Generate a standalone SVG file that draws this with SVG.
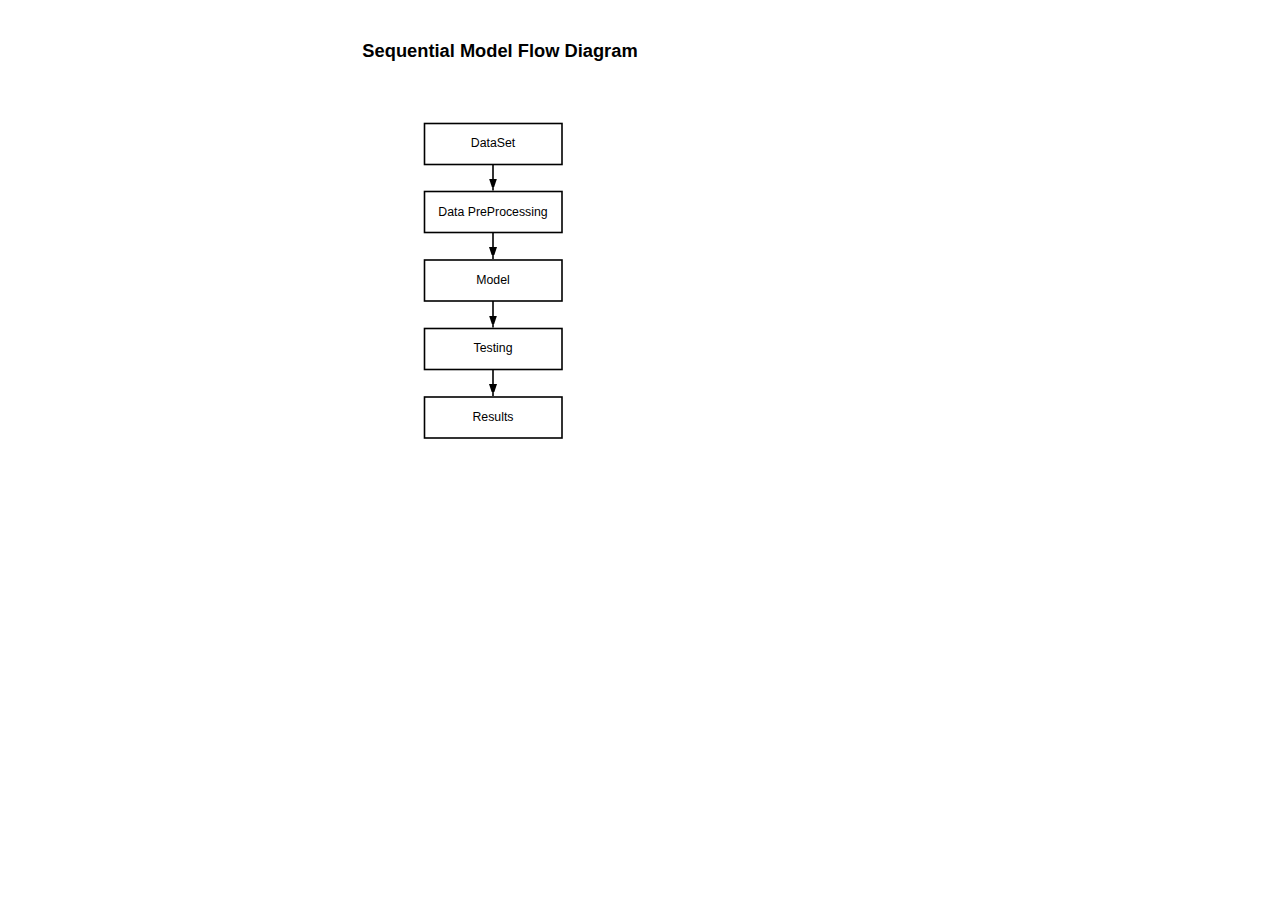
<svg xmlns="http://www.w3.org/2000/svg" width="1280" height="905" viewBox="0 0 1280 905">
<style>
.box{fill:#fff;stroke:#000;stroke-width:1.6}
.lbl{font-family:"Liberation Sans",Arial,sans-serif;font-size:12.3px;fill:#000;text-anchor:middle}
.title{font-family:"Liberation Sans",Arial,sans-serif;font-size:18.3px;font-weight:bold;fill:#000;text-anchor:middle}
.edge{stroke:#000;stroke-width:1.6;fill:none}
</style>
<defs>
<marker id="arr" markerWidth="8" markerHeight="12" refX="12" refY="4" orient="auto" markerUnits="userSpaceOnUse">
<path d="M0,0 L12,4 L0,8 Z" fill="#000"/>
</marker>
</defs>
<rect width="1280" height="905" fill="#fff"/>
<text class="title" x="500" y="56.5">Sequential Model Flow Diagram</text>
<g id="connectors">
<line class="edge" x1="493" y1="164" x2="493" y2="190.5" marker-end="url(#arr)"/>
<line class="edge" x1="493" y1="232.5" x2="493" y2="259" marker-end="url(#arr)"/>
<line class="edge" x1="493" y1="301" x2="493" y2="327.5" marker-end="url(#arr)"/>
<line class="edge" x1="493" y1="369.5" x2="493" y2="396" marker-end="url(#arr)"/>
</g>
<g id="node-dataset"><rect class="box" x="424.5" y="123.5" width="137.5" height="41"/><text class="lbl" x="493" y="147.3">DataSet</text></g>
<g id="node-preprocessing"><rect class="box" x="424.5" y="191.5" width="137.5" height="41"/><text class="lbl" x="493" y="215.5">Data PreProcessing</text></g>
<g id="node-model"><rect class="box" x="424.5" y="260" width="137.5" height="41"/><text class="lbl" x="493" y="284">Model</text></g>
<g id="node-testing"><rect class="box" x="424.5" y="328.5" width="137.5" height="41"/><text class="lbl" x="493" y="352.3">Testing</text></g>
<g id="node-results"><rect class="box" x="424.5" y="397" width="137.5" height="41"/><text class="lbl" x="493" y="421">Results</text></g>
</svg>
